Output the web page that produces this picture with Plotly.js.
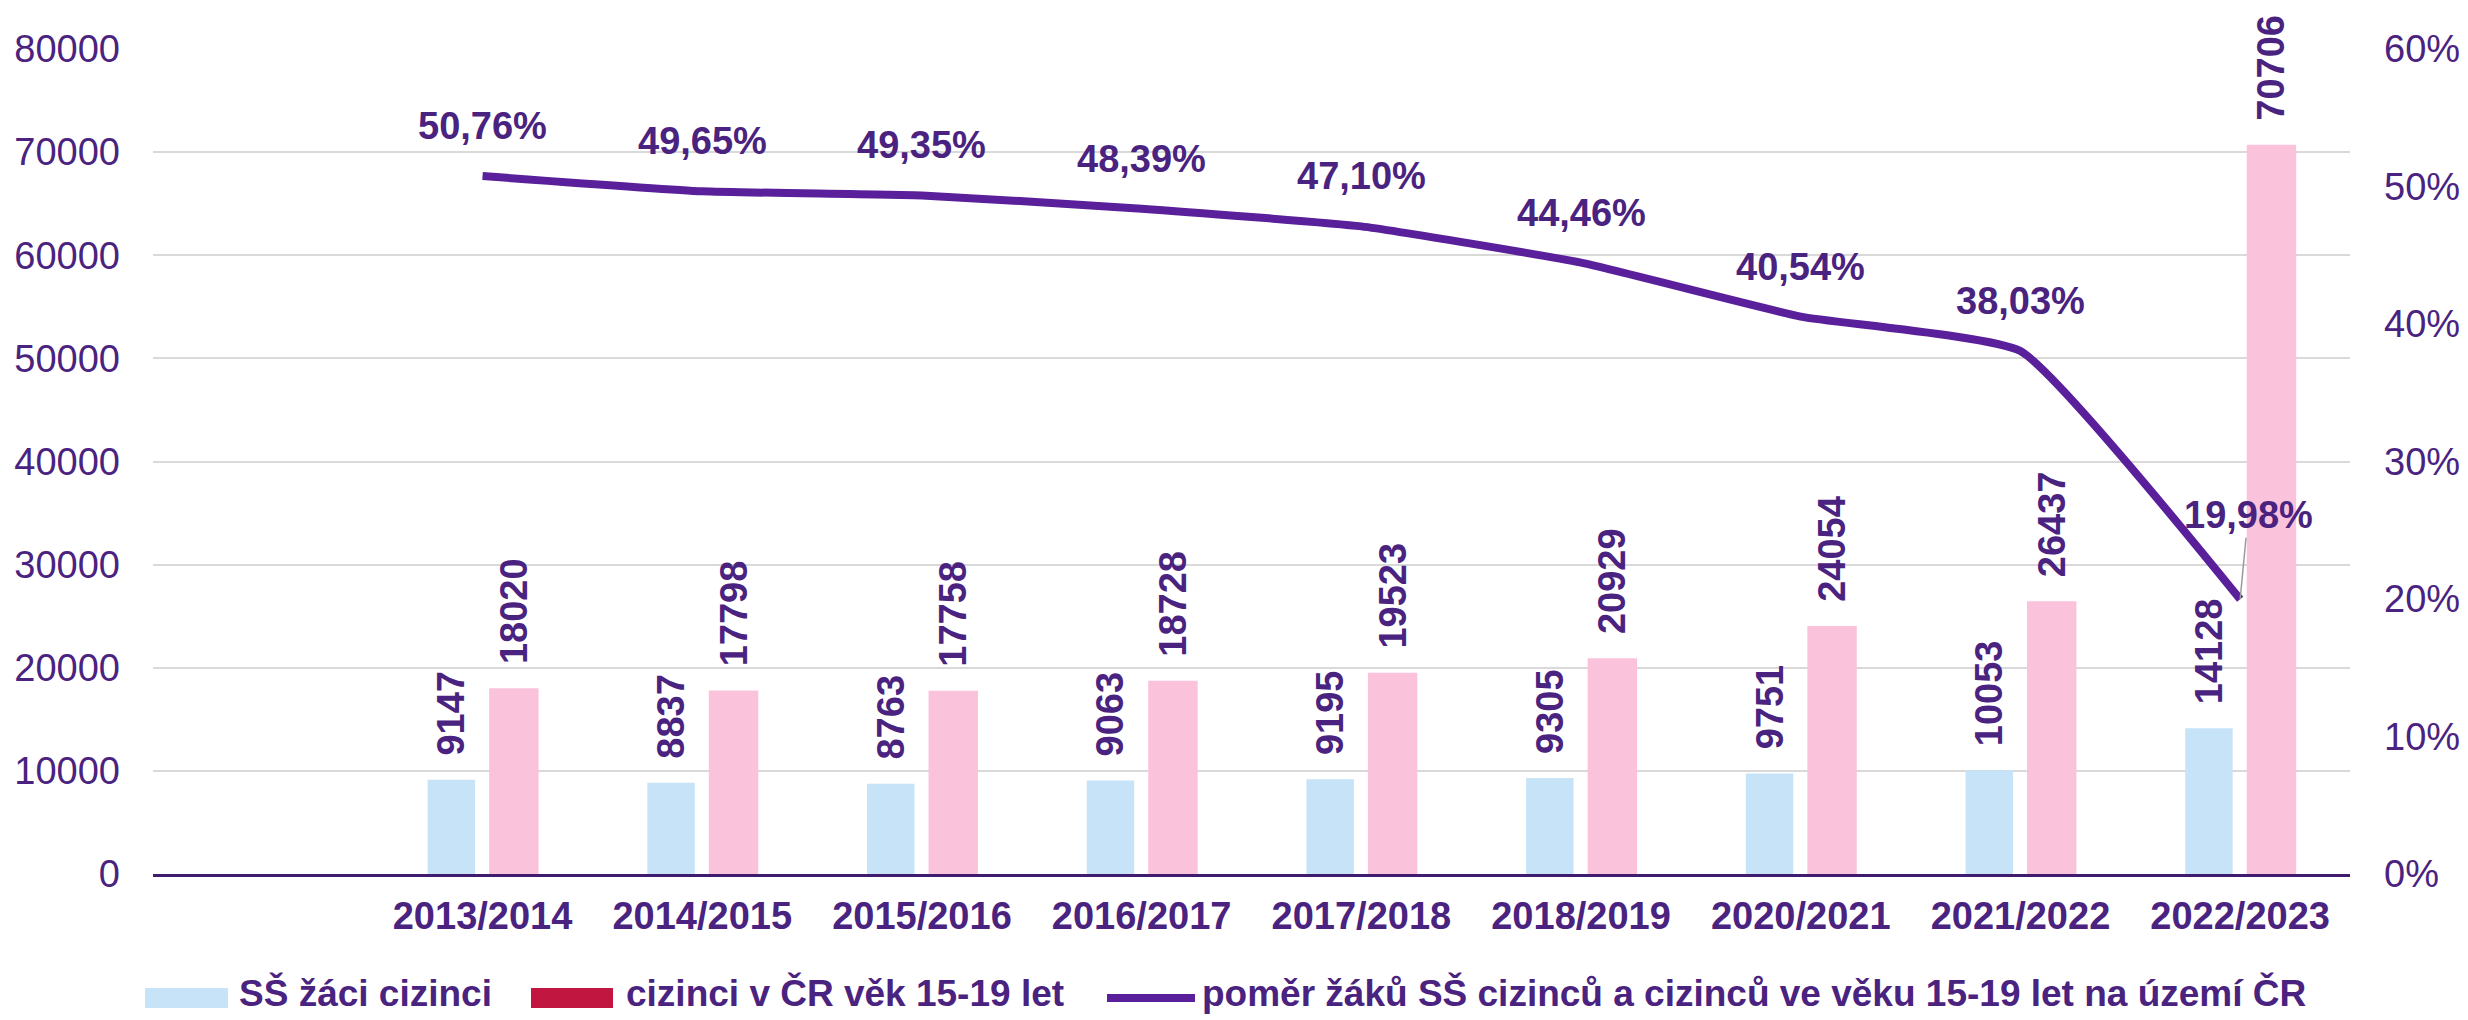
<!DOCTYPE html>
<html><head><meta charset="utf-8">
<script src="https://cdn.plot.ly/plotly-3.0.1.min.js"></script>
<style>html,body{margin:0;padding:0;background:#fff}#chart{width:2468px;height:1020px}</style>
</head><body><div id="chart"></div>
<script>
// ---- data ----
const categories = ['2013/2014','2014/2015','2015/2016','2016/2017','2017/2018','2018/2019','2020/2021','2021/2022','2022/2023'];
const students = [9147, 8837, 8763, 9063, 9195, 9305, 9751, 10053, 14128];
const population = [18020, 17798, 17758, 18728, 19523, 20929, 24054, 26437, 70706];
const ratio = [50.76, 49.65, 49.35, 48.39, 47.10, 44.46, 40.54, 38.03, 19.98];
const seriesNames = ['SŠ žáci cizinci', 'cizinci v ČR věk 15-19 let', 'poměr žáků SŠ cizinců a cizinců ve věku 15-19 let na území ČR'];
const leftTicks = [0, 10000, 20000, 30000, 40000, 50000, 60000, 70000, 80000];
const rightTicks = [0, 10, 20, 30, 40, 50, 60];

// ---- style ----
const FONT = 'Arial, "Liberation Sans", Helvetica, sans-serif';
const TXT = '#4a2380';
const LINE = '#5a1f9a';
const BLUE = '#c6e3f8';
const PINK = '#fbc2db';
const CRIMSON = '#c0163f';
const W = 2468, H = 1020, L = 153, R = 2350, T = 49, B = 874;
const px = x => (x - L) / (R - L);
const py = y => (B - y) / (B - T);
const pad = '\u00a0\u00a0';
const fmtPct = v => v.toFixed(2).replace('.', ',') + '%';

const traces = [
  {
    type: 'bar', name: seriesNames[0], x: categories, y: students,
    marker: {color: BLUE}, width: 0.216, offset: -0.25,
    text: students.map(v => pad + String(v)), textposition: 'outside', textangle: -90,
    textfont: {family: FONT, size: 38, color: TXT, weight: 'bold'},
    constraintext: 'none', cliponaxis: false, showlegend: false, hoverinfo: 'x+y'
  },
  {
    type: 'bar', name: seriesNames[1], x: categories, y: population,
    marker: {color: PINK}, width: 0.225, offset: 0.03,
    text: population.map(v => pad + String(v)), textposition: 'outside', textangle: -90,
    textfont: {family: FONT, size: 38, color: TXT, weight: 'bold'},
    constraintext: 'none', cliponaxis: false, showlegend: false, hoverinfo: 'x+y'
  },
  {
    type: 'scatter', mode: 'lines', name: seriesNames[2], x: categories, y: ratio, yaxis: 'y2',
    line: {color: LINE, width: 8, shape: 'spline', smoothing: 0.4},
    cliponaxis: false, showlegend: false
  }
];

const annotations = ratio.map((v, i) => {
  const last = i === ratio.length - 1;
  return {
    x: categories[i], y: v, xref: 'x', yref: 'y2', text: fmtPct(v),
    font: {family: FONT, size: 38, color: TXT, weight: 'bold'},
    showarrow: last, ax: last ? 8 : 0, ay: last ? -84 : 0,
    arrowhead: 0, arrowcolor: '#9a9a9a', arrowwidth: 1.5, standoff: 0,
    yshift: last ? 0 : 50, xanchor: 'center', yanchor: 'middle'
  };
});

// custom legend (wide swatches as in the original)
const legY = 993;
const legendText = [237, 624, 1200];
legendText.forEach((x, i) => annotations.push({
  xref: 'paper', yref: 'paper', x: px(x), y: py(legY), xanchor: 'left', yanchor: 'middle',
  text: seriesNames[i], showarrow: false,
  font: {family: FONT, size: 37, color: TXT, weight: 'bold'}
}));
const swY = 998;
const shapes = [
  {type: 'rect', xref: 'paper', yref: 'paper', x0: px(145), x1: px(228), y0: py(swY + 10), y1: py(swY - 10), fillcolor: BLUE, line: {width: 0}},
  {type: 'rect', xref: 'paper', yref: 'paper', x0: px(531), x1: px(613), y0: py(swY + 10), y1: py(swY - 10), fillcolor: CRIMSON, line: {width: 0}},
  {type: 'line', xref: 'paper', yref: 'paper', x0: px(1107), x1: px(1195), y0: py(swY), y1: py(swY), line: {color: LINE, width: 8}}
];

const layout = {
  width: W, height: H,
  margin: {l: L, r: W - R, t: T, b: H - B, pad: 0},
  paper_bgcolor: '#ffffff', plot_bgcolor: '#ffffff',
  font: {family: FONT, size: 38, color: TXT},
  barmode: 'overlay',
  showlegend: false,
  xaxis: {
    type: 'category', categoryorder: 'array', categoryarray: categories,
    range: [-1.5, categories.length - 0.5],
    showgrid: false, showline: true, linecolor: '#3f1c6e', linewidth: 3,
    ticks: '', ticklabelstandoff: 6,
    tickfont: {family: FONT, size: 38, color: TXT, weight: 'bold'},
    fixedrange: true
  },
  yaxis: {
    range: [0, 80000], tickmode: 'array', tickvals: leftTicks, ticktext: leftTicks.map(String),
    showgrid: true, gridcolor: '#d9d9d9', gridwidth: 2,
    zeroline: false, showline: false, ticks: '', ticklabelstandoff: 32,
    tickfont: {family: FONT, size: 38, color: TXT}, fixedrange: true
  },
  yaxis2: {
    overlaying: 'y', side: 'right', range: [0, 60],
    tickmode: 'array', tickvals: rightTicks, ticktext: rightTicks.map(v => v + '%'),
    showgrid: false, zeroline: false, showline: false, ticks: '', ticklabelstandoff: 33,
    tickfont: {family: FONT, size: 38, color: TXT}, fixedrange: true
  },
  annotations: annotations,
  shapes: shapes
};

Plotly.newPlot('chart', traces, layout, {displayModeBar: false, staticPlot: true});
</script>
</body></html>
